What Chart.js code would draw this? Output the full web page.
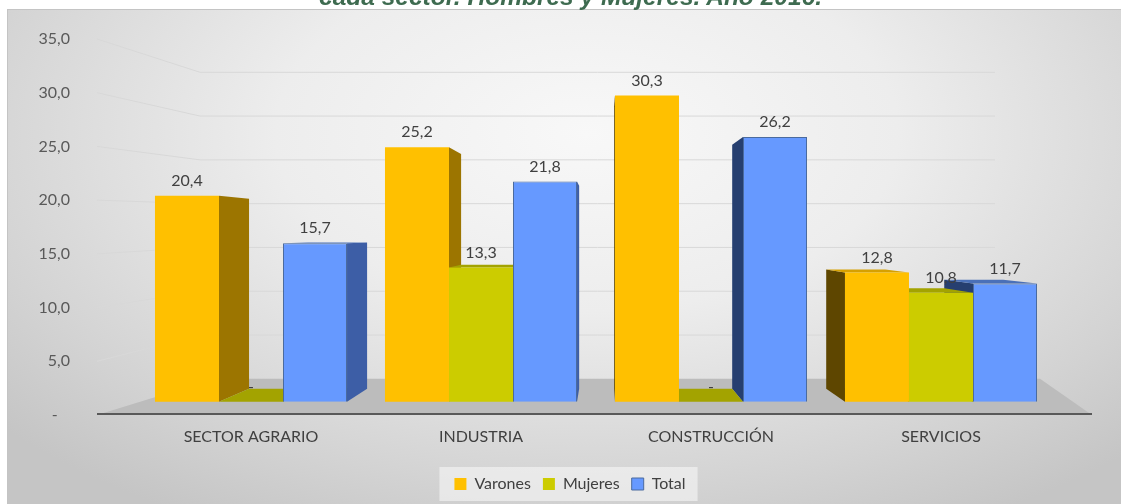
<!DOCTYPE html>
<html lang="es">
<head>
<meta charset="utf-8">
<script src="https://cdn.jsdelivr.net/npm/chart.js@4.4.1/dist/chart.umd.min.js"></script>
<style>
    html, body { margin: 0; padding: 0; width: 1121px; height: 504px; overflow: hidden; background: #fff; }
    #titulo {
        position: absolute; left: 10px; top: -15px; width: 1121px; z-index: 2;
        text-align: center; white-space: nowrap;
        font: italic bold 24.5px/24px "Liberation Sans", Arial, sans-serif;
        color: #3e6b50;
    }
    #panel {
        position: absolute; left: 7px; top: 9px; width: 1114px; height: 495px; box-sizing: border-box;
        border-top: 1px solid #c4c4c4; border-left: 1px solid #c4c4c4;
        background: radial-gradient(ellipse 70% 90% at 52% 25%, #f8f8f8 0%, #ededed 40%, #d3d3d3 80%, #c5c5c5 100%);
    }
    #grafico { position: absolute; left: 0; top: 0; z-index: 1; }
</style>
</head>
<body>
<div id="titulo">cada sector. Hombres y Mujeres. Año 2016.</div>
<div id="panel"></div>
<canvas id="grafico" width="1121" height="504"></canvas>
<script>
/* Tasa por sector: Varones / Mujeres / Total */

var SECTORES = ['SECTOR AGRARIO', 'INDUSTRIA', 'CONSTRUCCIÓN', 'SERVICIOS'];
var VARONES  = [20.4, 25.2, 30.3, 12.8];
var MUJERES  = [0, 13.3, 0, 10.8];
var TOTAL    = [15.7, 21.8, 26.2, 11.7];
var EJE_Y    = [0, 5, 10, 15, 20, 25, 30, 35];

// punto de fuga (fracción del área) y profundidad de las barras
var FUGA = { x: 0.509, y: 0.52, k: 0.078 };

function fmt(v) {
    if (v === 0) return '-';
    return v.toFixed(1).replace('.', ',');
}

Chart.defaults.font.family = 'Lato, sans-serif';
Chart.defaults.font.size = 16;

function atras(ca, x, y) {
    var vx = ca.left + FUGA.x * (ca.right - ca.left);
    var vy = ca.top + FUGA.y * (ca.bottom - ca.top);
    return [x + FUGA.k * (vx - x), y + FUGA.k * (vy - y)];
}

function poligono(ctx, pts, color) {
    ctx.fillStyle = color;
    ctx.beginPath();
    ctx.moveTo(pts[0][0], pts[0][1]);
    for (var i = 1; i < pts.length; i++) ctx.lineTo(pts[i][0], pts[i][1]);
    ctx.closePath();
    ctx.fill();
}

// pared del fondo, suelo y caras laterales de las barras
var fondo3d = {
    id: 'fondo3d',
    beforeDatasetsDraw: function(chart) {
        var ctx = chart.ctx, ca = chart.chartArea;
        var sy = chart.scales.y, sg = chart.scales.yGrid;
        var izqF = ca.left - 39, izqB = ca.left + 64, derB = ca.right - 61;

        ctx.save();
        ctx.strokeStyle = '#d8d8d8';
        ctx.lineWidth = 1;
        EJE_Y.forEach(function(v) {
            if (v === 0) return;
            var yf = sy.getPixelForValue(v), yb = sg.getPixelForValue(v);
            ctx.beginPath();
            ctx.moveTo(izqF, yf);
            ctx.lineTo(izqB, yb);
            ctx.lineTo(derB, yb);
            ctx.stroke();
        });

        var y0f = sy.getPixelForValue(0), y0b = sg.getPixelForValue(0);
        poligono(ctx, [[izqF, y0f], [ca.left + 79, y0b], [ca.right - 16, y0b], [ca.right + 36, y0f]], '#bcbcbc');
        ctx.strokeStyle = '#595959';
        ctx.lineWidth = 2;
        ctx.beginPath();
        ctx.moveTo(izqF, y0f - 1);
        ctx.lineTo(ca.right + 36, y0f - 1);
        ctx.stroke();

        var vx = ca.left + FUGA.x * (ca.right - ca.left);
        var vy = ca.top + FUGA.y * (ca.bottom - ca.top);
        var barras = [];
        chart.data.datasets.forEach(function(ds, i) {
            chart.getDatasetMeta(i).data.forEach(function(el) {
                var p = el.getProps(['x', 'y', 'base', 'width'], true);
                barras.push({ p: p, c: ds.caras });
            });
        });
        barras.sort(function(a, b) { return Math.abs(b.p.x - vx) - Math.abs(a.p.x - vx); });

        barras.forEach(function(b) {
            var L = b.p.x - b.p.width / 2, R = b.p.x + b.p.width / 2;
            var T = Math.min(b.p.y, b.p.base), B = b.p.base;
            if (R < vx) poligono(ctx, [[R, T], atras(ca, R, T), atras(ca, R, B), [R, B]], b.c.der);
            if (L > vx) poligono(ctx, [[L, T], atras(ca, L, T), atras(ca, L, B), [L, B]], b.c.izq);
            if (T > vy) poligono(ctx, [[L, T], [R, T], atras(ca, R, T), atras(ca, L, T)], b.c.sup);
        });
        ctx.restore();
    },
    afterDatasetsDraw: function(chart) {
        var ctx = chart.ctx;
        ctx.save();
        ctx.font = '16px Lato, sans-serif';
        ctx.fillStyle = '#404040';
        ctx.textAlign = 'center';
        ctx.textBaseline = 'middle';
        chart.data.datasets.forEach(function(ds, i) {
            chart.getDatasetMeta(i).data.forEach(function(el, j) {
                var p = el.getProps(['x', 'y', 'base'], true);
                ctx.fillText(fmt(ds.data[j]), p.x, Math.min(p.y, p.base) - 15);
            });
        });
        ctx.restore();
    }
};

// leyenda desplazada a la derecha y con recuadro claro detrás
var fondoLeyenda = {
    id: 'fondoLeyenda',
    afterLayout: function(chart) {
        var lg = chart.legend;
        if (!lg) return;
        lg.left += 42;
        lg.right += 42;
    },
    beforeDraw: function(chart) {
        var cajas = chart.legend && chart.legend.legendHitBoxes;
        if (!cajas || !cajas.length) return;
        var x0 = Infinity, x1 = -Infinity, yc = cajas[0].top + cajas[0].height / 2;
        cajas.forEach(function(c) { x0 = Math.min(x0, c.left); x1 = Math.max(x1, c.left + c.width); });
        var ctx = chart.ctx;
        ctx.save();
        ctx.fillStyle = 'rgba(246,246,246,0.6)';
        ctx.fillRect(x0 - 15, yc - 17, x1 - x0 + 27, 34);
        ctx.restore();
    }
};

new Chart(document.getElementById('grafico'), {
    type: 'bar',
    data: {
        labels: SECTORES,
        datasets: [
            {
                label: 'Varones', data: VARONES, yAxisID: 'yBar',
                backgroundColor: '#FFC000', borderWidth: 0,
                caras: { der: '#9c7500', izq: '#5e4600', sup: '#d6a000' }
            },
            {
                label: 'Mujeres', data: MUJERES, yAxisID: 'yBar',
                backgroundColor: '#CCCC00', borderWidth: 0,
                caras: { der: '#8f8f00', izq: '#6b6b00', sup: '#a3a300' }
            },
            {
                label: 'Total', data: TOTAL, yAxisID: 'yBar',
                backgroundColor: '#6699FF', borderColor: '#4a6a9e', borderWidth: 1,
                caras: { der: '#3d5ea6', izq: '#263f70', sup: '#4a70b8' }
            }
        ]
    },
    options: {
        responsive: false,
        animation: false,
        layout: { padding: { top: 39, right: 65, bottom: 2, left: 0 } },
        datasets: { bar: { categoryPercentage: 0.835, barPercentage: 1 } },
        plugins: {
            tooltip: { enabled: false },
            legend: {
                position: 'bottom',
                labels: { color: '#404040', boxWidth: 12, boxHeight: 12, padding: 12, font: { size: 16 } }
            }
        },
        scales: {
            x: {
                grid: { display: false, drawTicks: false },
                border: { display: false },
                ticks: { color: '#404040', padding: 12, maxRotation: 0, autoSkip: false },
                afterFit: function(s) { s.height = 49; }
            },
            y: {
                position: 'left', min: 0, max: 35,
                grid: { display: false, drawTicks: false },
                border: { display: false },
                ticks: {
                    stepSize: 5, padding: 66, color: '#595959',
                    callback: function(v) { return v === 0 ? '-   ' : fmt(v); }
                },
                afterFit: function(s) {
                    s.width = 136;
                    s.paddingTop = 10;
                    s.paddingBottom = 10;
                }
            },
            yBar:  { display: false, min: -1.3, max: 35.9 },
            yGrid: { display: false, min: -4.13, max: 38.8 }
        }
    },
    plugins: [fondoLeyenda, fondo3d]
});
</script>
</body>
</html>
